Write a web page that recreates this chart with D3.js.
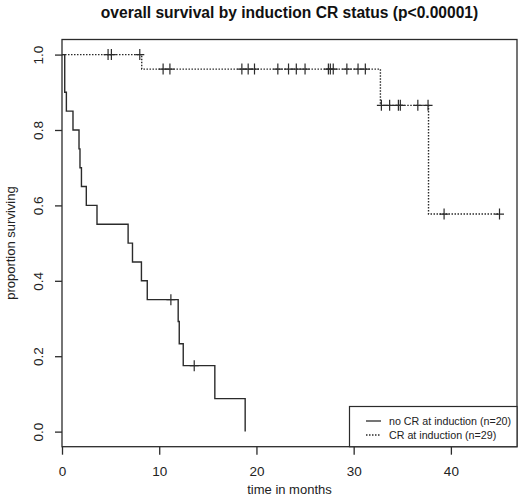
<!DOCTYPE html>
<html>
<head>
<meta charset="utf-8">
<script src="https://cdn.jsdelivr.net/npm/d3@7"></script>
<style>
  body { margin: 0; background: #fff; }
  svg { font-family: "Liberation Sans", Arial, sans-serif; }
</style>
</head>
<body>
<svg id="chart__svg" width="520" height="499"></svg>
<script>
// no CR at induction (n=20): step times and survival
const noCrTime = [0, 0.28, 0.45, 1.13, 1.75, 1.85, 2.0, 2.5, 3.6, 6.8, 7.25, 8.17, 8.77, 11.95, 12.06, 12.47, 15.72, 18.84];
const noCrSurv = [1.0, 0.9, 0.85, 0.8, 0.75, 0.7, 0.65, 0.6, 0.55, 0.5, 0.45, 0.4, 0.35, 0.292, 0.233, 0.175, 0.0875, 0];
const noCrCensor = [11.2, 13.6];

// CR at induction (n=29)
const crTime = [0, 8.2, 32.75, 37.7, 45.0];
const crSurv = [1.0, 0.9615, 0.8654, 0.577, 0.577];
const crCensor = [4.74, 5.08, 8.0, 10.4, 11.1, 18.5, 19.15, 19.8, 22.2, 23.3, 24.1, 25.0,
  27.4, 27.6, 27.9, 29.3, 30.45, 31.2, 32.85, 33.7, 34.6, 34.8, 36.6, 37.65, 39.3, 45.0];

const xTicks = [0, 10, 20, 30, 40];
const yTicks = [0, 0.2, 0.4, 0.6, 0.8, 1.0];
const legendLabels = ["no CR at induction (n=20)", "CR at induction (n=29)"];

const SVG = d3.select("#chart__svg");
const BOX = { left: 62, right: 517, top: 39.5, bottom: 446.7 };
const INK = "#2b2b2b";

const xScale = d3.scaleLinear().domain([0, 46.8]).range([BOX.left, BOX.right]);
const yScale = d3.scaleLinear().domain([-0.04, 1.04]).range([BOX.bottom, BOX.top]);

// title
SVG.append("text")
  .attr("x", (BOX.left + BOX.right) / 2)
  .attr("y", 18)
  .attr("text-anchor", "middle")
  .attr("font-size", 15.6)
  .attr("font-weight", "bold")
  .attr("fill", "#111")
  .text("overall survival by induction CR status (p<0.00001)");

// frame
SVG.append("rect")
  .attr("x", BOX.left)
  .attr("y", BOX.top)
  .attr("width", BOX.right - BOX.left)
  .attr("height", BOX.bottom - BOX.top)
  .attr("fill", "none")
  .attr("stroke", INK)
  .attr("stroke-width", 1.3);

// x axis
const xAxis = SVG.append("g")
  .attr("transform", "translate(0," + BOX.bottom + ")")
  .call(d3.axisBottom(xScale).tickValues(xTicks).tickSize(8).tickPadding(12).tickSizeOuter(0));
xAxis.select(".domain").remove();
xAxis.selectAll("line").attr("stroke", INK).attr("stroke-width", 1.3);
xAxis.selectAll("text").attr("font-size", 13.5).attr("fill", "#222")
  .attr("font-family", "Liberation Sans, Arial, sans-serif");

// y axis with rotated labels (R style)
const yAxis = SVG.append("g")
  .attr("transform", "translate(" + BOX.left + ",0)")
  .call(d3.axisLeft(yScale).tickValues(yTicks).tickSize(7).tickFormat(d3.format(".1f")).tickSizeOuter(0));
yAxis.select(".domain").remove();
yAxis.selectAll("line").attr("stroke", INK).attr("stroke-width", 1.3);
yAxis.selectAll("text")
  .attr("font-size", 13.5)
  .attr("fill", "#222")
  .attr("font-family", "Liberation Sans, Arial, sans-serif")
  .attr("text-anchor", "middle")
  .attr("dy", null)
  .attr("x", null)
  .attr("transform", "translate(-19,0) rotate(-90)");

// axis titles
SVG.append("text")
  .attr("x", (BOX.left + BOX.right) / 2)
  .attr("y", 494)
  .attr("text-anchor", "middle")
  .attr("font-size", 13)
  .attr("fill", "#222")
  .text("time in months");

SVG.append("text")
  .attr("transform", "translate(15," + (BOX.top + BOX.bottom) / 2 + ") rotate(-90)")
  .attr("text-anchor", "middle")
  .attr("font-size", 13)
  .attr("fill", "#222")
  .text("proportion surviving");

// survival curves
const stepLine = d3.line()
  .x((d) => xScale(d[0]))
  .y((d) => yScale(d[1]))
  .curve(d3.curveStepAfter);

const curves = [
  { time: noCrTime, surv: noCrSurv, censor: noCrCensor, dash: null },
  { time: crTime, surv: crSurv, censor: crCensor, dash: "1.5,1.5" },
];

curves.forEach((c) => {
  const pts = c.time.map((t, i) => [t, c.surv[i]]);
  SVG.append("path")
    .attr("d", stepLine(pts))
    .attr("fill", "none")
    .attr("stroke", INK)
    .attr("stroke-width", 1.4)
    .attr("stroke-dasharray", c.dash);

  // censor marks (plus signs) at the level of the curve
  const marks = c.censor.map((t) => {
    const i = d3.bisectRight(c.time, t) - 1;
    return [t, c.surv[i]];
  });
  SVG.append("g")
    .selectAll("path")
    .data(marks)
    .join("path")
    .attr("d", (d) => {
      const cx = xScale(d[0]), cy = yScale(d[1]);
      return "M" + (cx - 4.5) + "," + cy + "H" + (cx + 4.5) +
        "M" + cx + "," + (cy - 5.5) + "V" + (cy + 5.5);
    })
    .attr("stroke", INK)
    .attr("stroke-width", 1.2)
    .attr("fill", "none");
});

// legend
const legend = SVG.append("g");
legend.append("rect")
  .attr("x", 349.5)
  .attr("y", 406.5)
  .attr("width", BOX.right - 349.5)
  .attr("height", BOX.bottom - 406.5)
  .attr("fill", "#fff")
  .attr("stroke", INK)
  .attr("stroke-width", 1.2);

legendLabels.forEach((label, i) => {
  const ly = 421 + i * 14;
  legend.append("line")
    .attr("x1", 366)
    .attr("x2", 381)
    .attr("y1", ly)
    .attr("y2", ly)
    .attr("stroke", INK)
    .attr("stroke-width", 1.3)
    .attr("stroke-dasharray", curves[i].dash);
  legend.append("text")
    .attr("x", 389)
    .attr("y", ly + 4)
    .attr("font-size", 10.7)
    .attr("fill", "#222")
    .text(label);
});
</script>
</body>
</html>
